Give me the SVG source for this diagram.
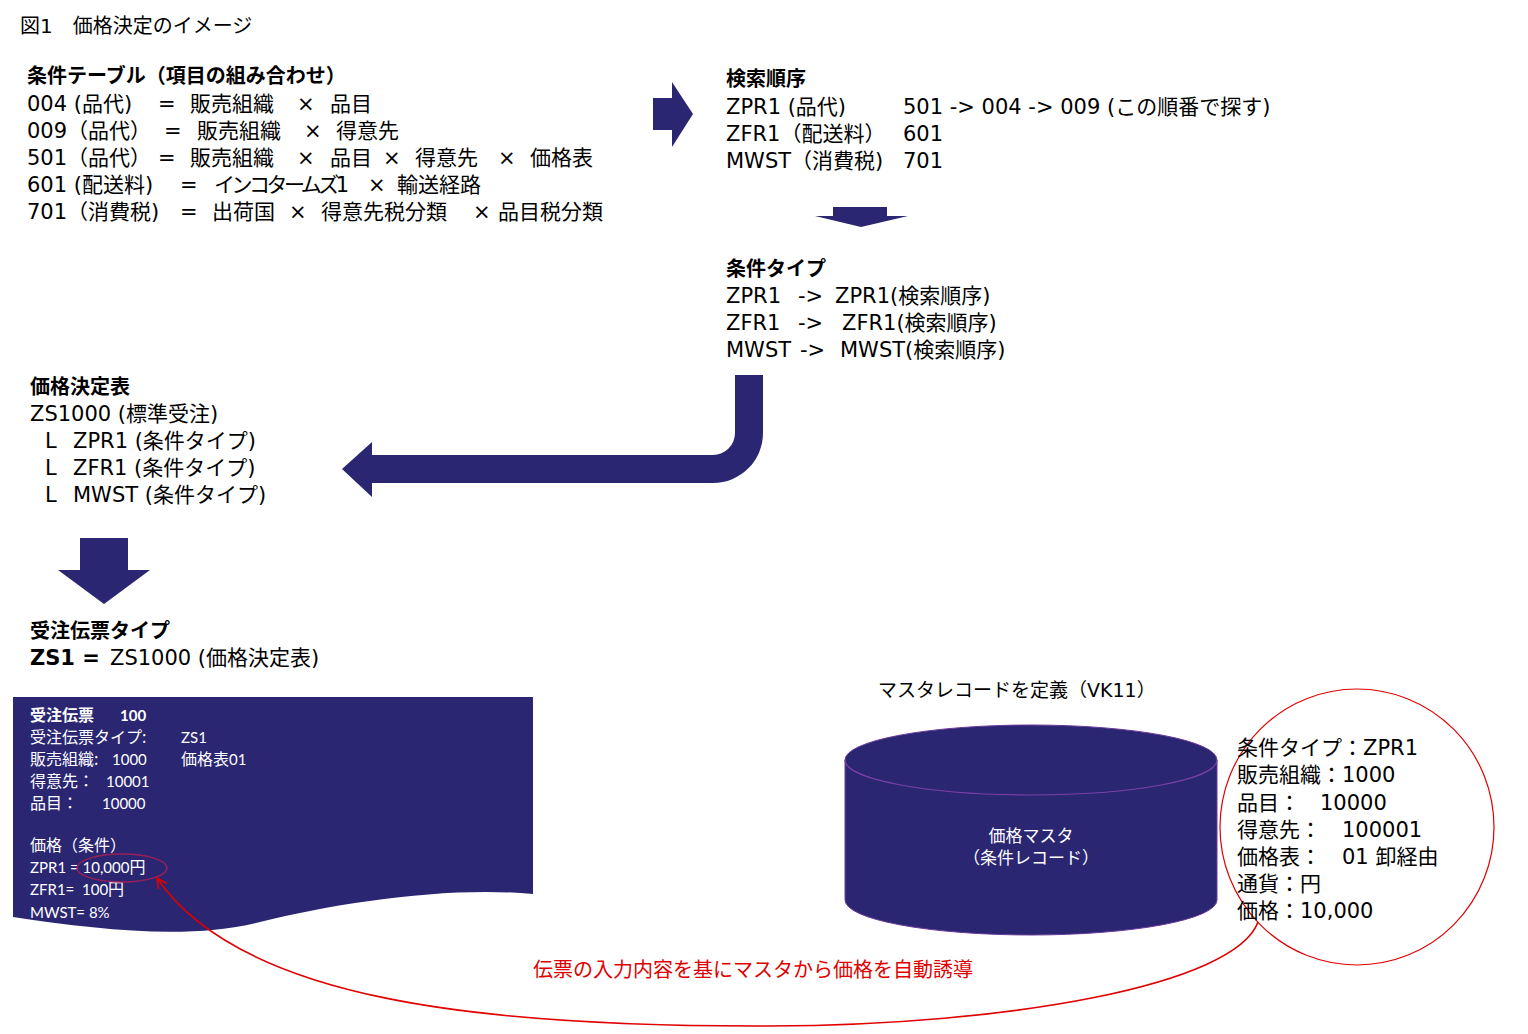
<svg xmlns="http://www.w3.org/2000/svg" width="1528" height="1034" viewBox="0 0 1528 1034">
<defs>
<marker id="openArrow" viewBox="0 0 12 12" refX="11" refY="6" markerWidth="12" markerHeight="12" markerUnits="userSpaceOnUse" orient="auto">
<path d="M1,1 L11,6 L1,11" fill="none" stroke="#e00000" stroke-width="1.6"/>
</marker>
<style>
.t{font-family:"DejaVu Sans","Noto Sans CJK JP",sans-serif;font-size:21px;fill:#000}
.b{font-weight:bold}
.h{font-family:"DejaVu Sans","Noto Sans CJK JP",sans-serif;font-size:20px;font-weight:bold;fill:#000}
.w{font-family:Lato,"Noto Sans CJK JP",sans-serif;font-size:15px;fill:#fff}
.wj{font-family:"Noto Sans CJK JP",sans-serif;font-size:16px;fill:#fff}
.navy{fill:#2a2672}
.red{font-family:"Noto Sans CJK JP",sans-serif;font-size:20px;fill:#e00000}
</style>
</defs>
<rect width="1528" height="1034" fill="#fff"/>

<text class="t" x="20" y="33" style="font-size:20px">図1　価格決定のイメージ</text>

<g id="condition-table">
<text class="h" x="27" y="83">条件テーブル（項目の組み合わせ）</text>
<text class="t" y="111"><tspan x="27">004 (品代)</tspan><tspan x="158">=</tspan><tspan x="190">販売組織</tspan><tspan x="297">×</tspan><tspan x="330">品目</tspan></text>
<text class="t" y="138"><tspan x="27">009（品代）</tspan><tspan x="164">=</tspan><tspan x="197">販売組織</tspan><tspan x="304">×</tspan><tspan x="336">得意先</tspan></text>
<text class="t" y="165"><tspan x="27">501（品代）</tspan><tspan x="158">=</tspan><tspan x="190">販売組織</tspan><tspan x="297">×</tspan><tspan x="330">品目</tspan><tspan x="383">×</tspan><tspan x="415">得意先</tspan><tspan x="498">×</tspan><tspan x="530">価格表</tspan></text>
<text class="t" y="192"><tspan x="27">601 (配送料)</tspan><tspan x="180">=</tspan><tspan x="368">×</tspan><tspan x="397">輸送経路</tspan></text>
<text class="t" x="214" y="192" style="letter-spacing:-3.5px">インコタームズ1</text>
<text class="t" y="219"><tspan x="27">701（消費税)</tspan><tspan x="180">=</tspan><tspan x="212">出荷国</tspan><tspan x="289">×</tspan><tspan x="321">得意先税分類</tspan><tspan x="473">×</tspan><tspan x="498">品目税分類</tspan></text>
</g>

<g id="access-sequence">
<text class="h" x="726" y="86">検索順序</text>
<text class="t" y="114"><tspan x="726">ZPR1 (品代)</tspan><tspan x="903">501 -&gt; 004 -&gt; 009 (この順番で探す)</tspan></text>
<text class="t" y="141"><tspan x="726">ZFR1（配送料）</tspan><tspan x="903">601</tspan></text>
<text class="t" y="168"><tspan x="726">MWST（消費税)</tspan><tspan x="903">701</tspan></text>
</g>

<g id="condition-type">
<text class="h" x="726" y="276">条件タイプ</text>
<text class="t" y="303"><tspan x="726">ZPR1</tspan><tspan x="798">-&gt;</tspan><tspan x="835">ZPR1(検索順序)</tspan></text>
<text class="t" y="330"><tspan x="726">ZFR1</tspan><tspan x="798">-&gt;</tspan><tspan x="842">ZFR1(検索順序)</tspan></text>
<text class="t" y="357"><tspan x="726">MWST</tspan><tspan x="800">-&gt;</tspan><tspan x="840">MWST(検索順序)</tspan></text>
</g>

<g id="pricing-procedure">
<text class="h" x="30" y="394">価格決定表</text>
<text class="t" x="30" y="421">ZS1000 (標準受注)</text>
<text class="t" y="448"><tspan x="45">L</tspan><tspan x="73">ZPR1 (条件タイプ)</tspan></text>
<text class="t" y="475"><tspan x="45">L</tspan><tspan x="73">ZFR1 (条件タイプ)</tspan></text>
<text class="t" y="502"><tspan x="45">L</tspan><tspan x="73">MWST (条件タイプ)</tspan></text>
</g>

<g id="sales-doc-type">
<text class="h" x="30" y="638">受注伝票タイプ</text>
<text class="t" y="665"><tspan x="30" class="b">ZS1 =</tspan><tspan x="110">ZS1000 (価格決定表)</tspan></text>
</g>

<g id="sales-document">
<path class="navy" d="M13 697 H533 V894 C450 886 340 902 260 922 C190 940 100 930 13 917 Z"/>
<text class="wj" x="30" y="721" font-weight="bold">受注伝票<tspan x="120" class="w" font-weight="bold">100</tspan></text>
<text class="wj" x="30" y="743">受注伝票タイプ:<tspan x="181" class="w">ZS1</tspan></text>
<text class="wj" x="30" y="765">販売組織:<tspan x="112" class="w">1000</tspan><tspan x="181">価格表</tspan><tspan class="w">01</tspan></text>
<text class="wj" x="30" y="787">得意先：<tspan x="106" class="w">10001</tspan></text>
<text class="wj" x="30" y="809">品目：<tspan x="102" class="w">10000</tspan></text>
<text class="wj" x="30" y="851">価格（条件）</text>
<text class="w" x="30" y="873">ZPR1 = 10,000<tspan class="wj">円</tspan></text>
<text class="w" x="30" y="895">ZFR1=<tspan x="82">100</tspan><tspan class="wj">円</tspan></text>
<text class="w" x="30" y="918">MWST= 8%</text>
<ellipse cx="122" cy="868" rx="45" ry="14" fill="none" stroke="#9a2058" stroke-width="1.5"/>
</g>

<g id="price-master">
<text class="t" x="878" y="697" style="font-size:19px">マスタレコードを定義（VK11）</text>
<path class="navy" d="M845 760 A186 35 0 0 1 1217 760 V900 A186 35 0 0 1 845 900 Z" stroke="#6a3a9a" stroke-width="1"/>
<path d="M845 760 A186 35 0 0 0 1217 760" fill="none" stroke="#7a3fa8" stroke-width="1.2"/>
<text class="wj" x="1031" y="842" text-anchor="middle" style="font-size:17px">価格マスタ</text>
<text class="wj" x="1031" y="864" text-anchor="middle" style="font-size:17px">（条件レコード）</text>
</g>

<g id="condition-record">
<ellipse cx="1357" cy="827" rx="137" ry="138" fill="none" stroke="#e00000" stroke-width="1.2"/>
<text class="t" x="1237" y="755">条件タイプ：ZPR1</text>
<text class="t" x="1237" y="782">販売組織：1000</text>
<text class="t" x="1237" y="810">品目：<tspan x="1320">10000</tspan></text>
<text class="t" x="1237" y="837">得意先：<tspan x="1342">100001</tspan></text>
<text class="t" x="1237" y="864">価格表：<tspan x="1342">01 卸経由</tspan></text>
<text class="t" x="1237" y="891">通貨：円</text>
<text class="t" x="1237" y="918">価格：10,000</text>
</g>

<g id="connectors">
<polygon class="navy" points="653,98 672,98 672,82 693,114 672,147 672,130 653,130"/>
<polygon class="navy" points="833,207 887,207 887,216 908,216 861,227 815,216 833,216"/>
<path class="navy" d="M735 375 H763 V433 A50 50 0 0 1 713 483 H372 V497 L342 469 L372 442 V455 H713 A22 22 0 0 0 735 433 Z"/>
<polygon class="navy" points="80,538 128,538 128,570 150,570 104,604 58,570 80,570"/>
<path d="M1258 922 C1235 985 1010 1025 770 1026 C480 1027 240 1000 157 878" fill="none" stroke="#e00000" stroke-width="1.6" marker-end="url(#openArrow)"/>
<text class="red" x="533" y="977">伝票の入力内容を基にマスタから価格を自動誘導</text>
</g>
</svg>
